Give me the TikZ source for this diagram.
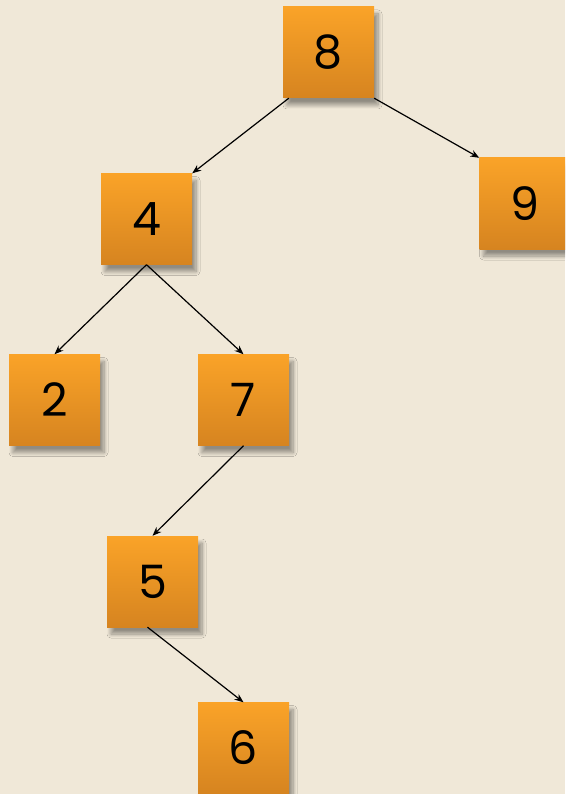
\documentclass[tikz,border=0pt]{standalone}
\usepackage{fontspec}
\setmainfont{Poppins}
\usetikzlibrary{arrows.meta,shadows.blur}
\definecolor{paper}{RGB}{240,232,216}
\definecolor{boxtop}{RGB}{250,163,40}
\definecolor{boxbot}{RGB}{214,132,32}

\begin{document}
\begin{tikzpicture}[x=1pt,y=-1pt,>={Stealth[length=9pt,width=7pt]},
  keybox/.style={rectangle,minimum size=91pt,inner sep=0pt,top color=boxtop,bottom color=boxbot,
    blur shadow={shadow xshift=4pt,shadow yshift=-7pt,shadow opacity=40,shadow blur radius=4pt,shadow blur steps=8},font=\fontsize{46}{46}\selectfont},
  link/.style={->,line width=1.2pt}]
\fill[paper] (0,0) rectangle (565,794);
\useasboundingbox (0,0) rectangle (565,794);
\clip (0,0) rectangle (565,794);
\node[keybox] (n8) at (328.5,52.5){8};
\node[keybox] (n4) at (146.5,219){4};
\node[keybox] (n9) at (525,203.5){9};
\node[keybox] (n2) at (54.5,400){2};
\node[keybox] (n7) at (243.5,400){7};
\node[keybox] (n5) at (152.5,581.5){5};
\node[keybox] (n6) at (243.5,748){6};
% edges of the tree
\draw[link] ([xshift=6pt]n8.south west)--(n4.north east);
\draw[link] (n8.south east)--(n9.north west);
\draw[link] (n4.south)--(n2.north);\draw[link] (n4.south)--(n7.north);
\draw[link] (n7.south)--(n5.north);
\draw[link] ([xshift=-5pt]n5.south)--(n6.north);
\end{tikzpicture}
\end{document}
